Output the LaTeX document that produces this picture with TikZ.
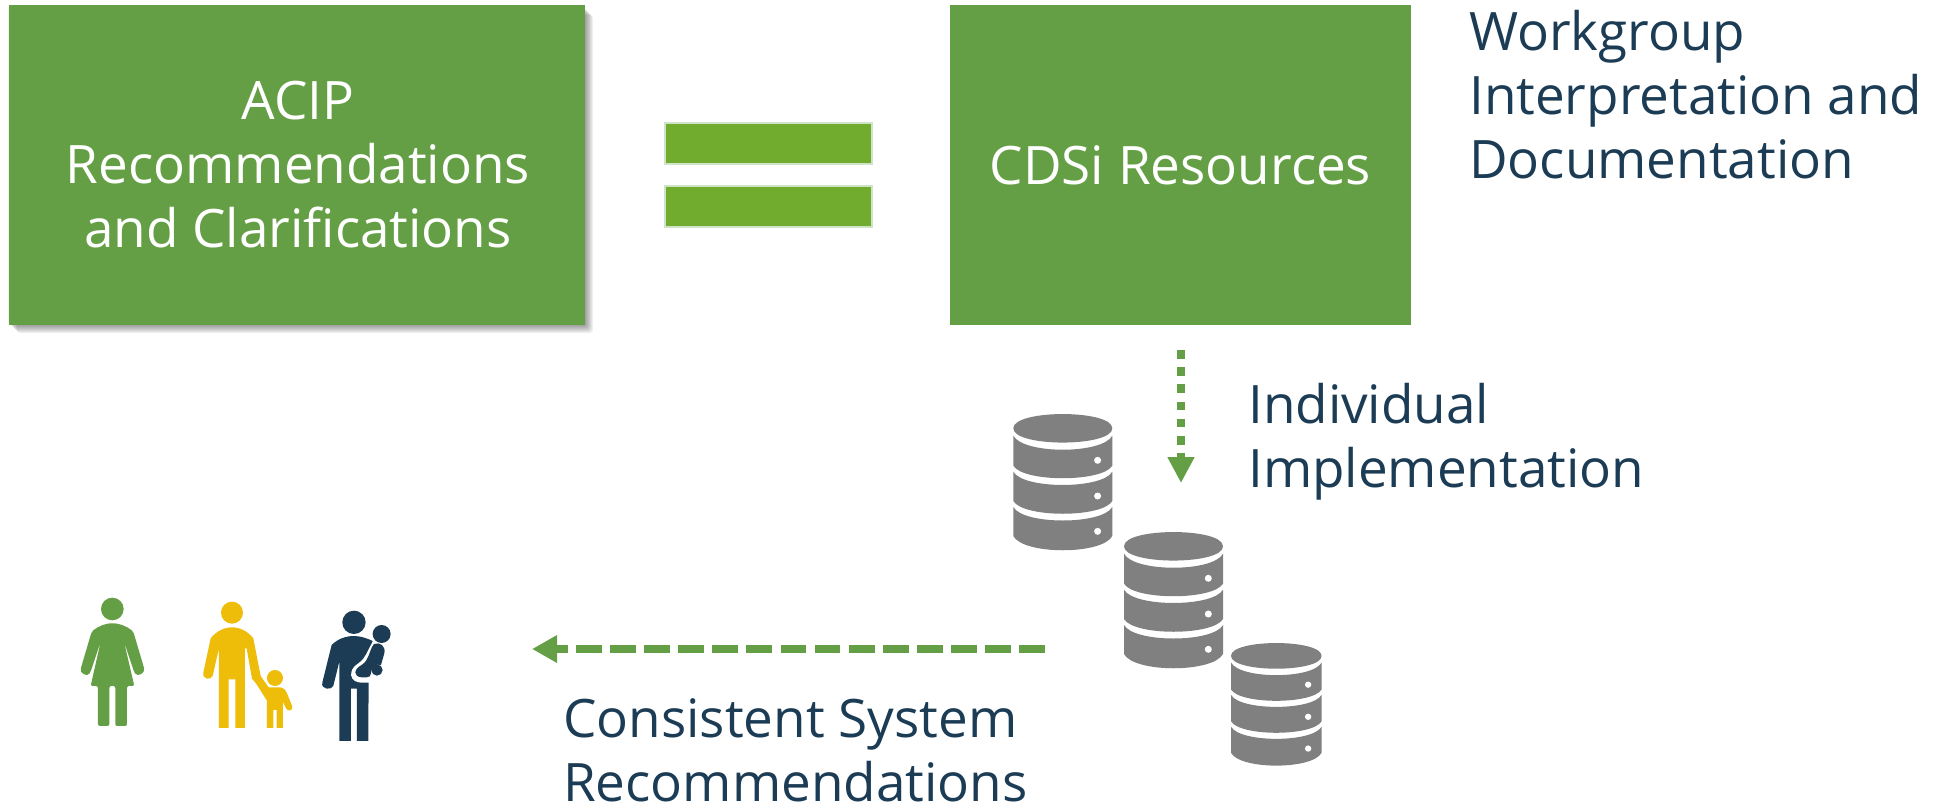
\documentclass[tikz,border=0pt]{standalone}
\usepackage{fontspec}
\setmainfont{Open Sans}
\usetikzlibrary{arrows.meta}
\definecolor{boxgreen}{HTML}{659F45}
\definecolor{bargreen}{HTML}{72AC2E}
\definecolor{barline}{HTML}{CFE3C8}
\definecolor{navy}{HTML}{1B3C54}
\definecolor{gold}{HTML}{EDBD0A}
\definecolor{dbgray}{HTML}{808080}
\tikzset{
  bigbox/.style={fill=boxgreen,draw=none,inner sep=0pt,align=center,text=white,font=\fontsize{53}{64}\selectfont},
  eqbar/.style={fill=bargreen,draw=barline,line width=2pt,inner sep=0pt,minimum width=207pt,minimum height=41pt},
  label/.style={inner sep=0pt,align=left,text=navy,font=\fontsize{53}{64}\selectfont,anchor=west},
  flow/.style={boxgreen,line width=8.7pt},
}
\newcommand{\dbstack}[4]{%
\begin{scope}[shift={(#1,#2)},xscale=#3,yscale=#4]
 \fill[dbgray] (0,14.3) .. controls (0,-4.7) and (99,-4.7) .. (99,14.3) .. controls (99,33.3) and (0,33.3) .. (0,14.3) -- cycle;
 \fill[dbgray] (0,21.7) .. controls (10,40.4) and (89,40.4) .. (99,21.7) -- (99,51.7) .. controls (89,68.4) and (10,68.4) .. (0,51.7) -- cycle;
 \fill[dbgray] (0,57.7) .. controls (10,75.4) and (89,75.4) .. (99,57.7) -- (99,87) .. controls (89,104) and (10,104) .. (0,87) -- cycle;
 \fill[dbgray] (0,93) .. controls (10,111) and (89,111) .. (99,93) -- (99,122) .. controls (89,141) and (10,141) .. (0,122) -- cycle;
 \fill[white] (84.3,46.3) circle[radius=3.5] (84.3,82) circle[radius=3.5] (84.3,117.3) circle[radius=3.5];
\end{scope}}
\begin{document}
\begin{tikzpicture}[x=1pt,y=-1pt]
\useasboundingbox (0,0) rectangle (1951,808);
% shadow of left box
\foreach \d in {-1,...,8}{
  \fill[black,opacity=0.055,rounded corners=3pt] (9+\d,7+\d) rectangle (585+\d,325+\d);
}
\node[bigbox,minimum width=576pt,minimum height=320pt] (acip) at (297,165) {\hspace*{2pt}ACIP\\\hspace*{2pt}Recommendations\\\hspace*{2pt}and Clarifications};
\node[bigbox,minimum width=461pt,minimum height=320pt] (cdsi) at (1180.5,165) {CDSi Resources};
\node[eqbar] (bartop) at (768,143.5) {};
\node[eqbar] (barbot) at (768,206) {};
\node[label] (wg) at (1469,95) {Workgroup\\Interpretation and\\Documentation};
\node[label] (impl) at (1248,442) {Individual\\Implementation};
\node[label] (cons) at (563,750) {Consistent System\\Recommendations};
% connectors
\coordinate (downstart) at (1181,350);
\coordinate (downend) at (1181,483);
\coordinate (leftstart) at (1045,649);
\coordinate (leftend) at (532,649);
\draw[flow,dash pattern=on 8.7pt off 8.47pt,-{Triangle[length=26pt,width=25.4pt]}] (downstart) -- (downend);
\draw[flow,dash pattern=on 25.8pt off 8.3pt,-{Triangle[length=25pt,width=26pt]}] (leftstart) -- (leftend);
% databases
\dbstack{1013.3}{414}{1}{1}
\dbstack{1124}{532}{1}{1}
\dbstack{1231}{643}{0.915}{0.9}
% people
\begin{scope}[shift={(50,570)},x=0.3333pt,y=-0.3333pt]
 % woman
 \fill[boxgreen] (187,117) circle[radius=34];
 \fill[boxgreen,rounded corners=2pt] (125,185) .. controls (145,168) and (170,160) .. (187,160) .. controls (205,160) and (230,168) .. (250,185)
   -- (281,290) .. controls (286,310) and (262,322) .. (252,305) -- (222,215) -- (253,348) -- (231,348) -- (231,468) -- (196,468) -- (196,348) -- (178,348) -- (178,468) -- (144,468) -- (144,348) -- (122,348) -- (152,215) -- (122,305) .. controls (112,322) and (88,310) .. (94,290) -- cycle;
 % adult with child
 \fill[gold] (546,128) circle[radius=33];
 \fill[gold] (675,324) circle[radius=24];
 \fill[gold] (482,205) .. controls (500,182) and (525,172) .. (546,172) .. controls (568,172) and (592,182) .. (610,205)
   -- (632,318) -- (656,352) -- (690,352) .. controls (702,353) and (708,362) .. (712,372) -- (727,410) .. controls (728,422) and (714,426) .. (709,416) -- (699,396) -- (699,474) -- (680,474) -- (680,420) -- (670,420) -- (670,474) -- (651,474) -- (651,392) -- (618,340) -- (606,326) -- (590,235) -- (585,235) -- (585,474) -- (556,474) -- (556,328) -- (536,328) -- (536,474) -- (507,474) -- (507,235) -- (488,318) .. controls (482,332) and (456,328) .. (460,308) -- cycle;
 % adult with baby
 \fill[navy] (912,157) circle[radius=35];
 \fill[navy] (845,225) .. controls (865,205) and (890,198) .. (912,198) .. controls (930,198) and (950,204) .. (968,213) -- (956,260) -- (956,320) -- (955,513) -- (921,513) -- (921,356) -- (903,356) -- (903,513) -- (868,513) -- (868,275) -- (850,348) .. controls (844,362) and (812,358) .. (817,338) -- cycle;
 % white outline round the baby
 \fill[white] (968,216) .. controls (950,245) and (950,262) .. (925,280) .. controls (892,300) and (898,338) .. (935,338) -- (960,338) -- (1030,338) -- (1030,216) -- cycle;
 \fill[navy] (995,192) circle[radius=27];
 \fill[navy] (981,300) circle[radius=17];
 \fill[navy] (972,222) .. controls (990,215) and (1008,228) .. (1003,250) -- (993,285) .. controls (978,280) and (963,290) .. (963,310) .. controls (963,318) and (958,322) .. (950,322) -- (935,322) .. controls (910,320) and (910,298) .. (935,285) .. controls (960,268) and (955,245) .. (972,222) -- cycle;
\end{scope}
\end{tikzpicture}
\end{document}
